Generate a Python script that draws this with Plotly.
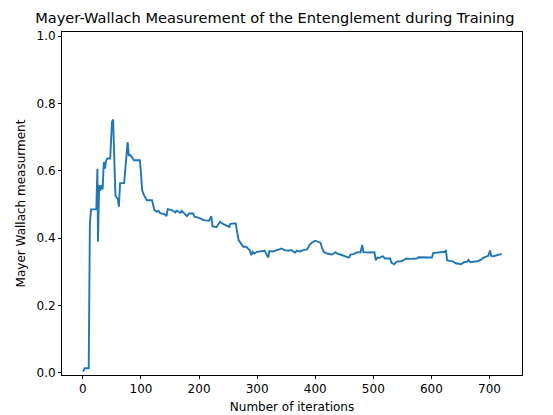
import plotly.graph_objects as go

# Training iteration at which each reading was taken
iterations = [
    0, 3, 10, 12, 14, 23, 25, 26, 28, 30, 32, 34, 36, 38, 40, 42, 47, 50, 52, 54,
    56, 58, 60, 62, 64, 71, 73, 77, 79, 82, 88, 98, 100, 102, 104, 107, 110, 119,
    123, 127, 130, 133, 141, 144, 146, 153, 159, 161, 168, 170, 175, 179, 183, 190,
    192, 200, 208, 217, 221, 223, 230, 236, 242, 252, 254, 263, 265, 268, 272, 276,
    281, 287, 290, 292, 295, 300, 313, 318, 319, 321, 327, 338, 342, 347, 353, 359,
    365, 368, 374, 379, 386, 390, 394, 400, 404, 409, 412, 415, 420, 426, 429, 435,
    437, 443, 451, 458, 461, 466, 472, 478, 481, 483, 494, 502, 504, 507, 511, 516,
    520, 529, 531, 536, 540, 548, 553, 557, 563, 568, 575, 578, 591, 601, 603, 614,
    623, 625, 627, 631, 636, 642, 651, 656, 662, 664, 667, 679, 685, 689, 698, 701,
    703, 707, 714, 718, 721,
]

# Mayer-Wallach entanglement measure at those iterations
mw_values = [
    0.003, 0.013, 0.013, 0.443, 0.485, 0.485, 0.606, 0.389, 0.557, 0.540, 0.557,
    0.545, 0.626, 0.606, 0.631, 0.636, 0.636, 0.745, 0.752, 0.600, 0.527, 0.520,
    0.517, 0.493, 0.563, 0.563, 0.611, 0.685, 0.646, 0.646, 0.631, 0.631, 0.592,
    0.542, 0.532, 0.522, 0.512, 0.512, 0.483, 0.478, 0.481, 0.474, 0.470, 0.465,
    0.486, 0.483, 0.476, 0.481, 0.475, 0.481, 0.471, 0.465, 0.473, 0.473, 0.463,
    0.460, 0.453, 0.451, 0.465, 0.435, 0.432, 0.448, 0.441, 0.433, 0.442, 0.444,
    0.423, 0.394, 0.384, 0.374, 0.374, 0.364, 0.349, 0.359, 0.354, 0.359, 0.362,
    0.346, 0.342, 0.361, 0.360, 0.366, 0.369, 0.364, 0.362, 0.364, 0.356, 0.362,
    0.360, 0.364, 0.366, 0.379, 0.386, 0.392, 0.389, 0.386, 0.369, 0.358, 0.354,
    0.353, 0.351, 0.358, 0.354, 0.351, 0.346, 0.342, 0.351, 0.352, 0.358, 0.357,
    0.379, 0.358, 0.357, 0.358, 0.334, 0.342, 0.341, 0.346, 0.339, 0.339, 0.327,
    0.322, 0.330, 0.331, 0.335, 0.339, 0.338, 0.339, 0.339, 0.343, 0.343, 0.342,
    0.355, 0.356, 0.359, 0.364, 0.334, 0.332, 0.331, 0.325, 0.322, 0.328, 0.330,
    0.335, 0.328, 0.331, 0.335, 0.341, 0.347, 0.363, 0.347, 0.346, 0.350, 0.353,
    0.353,
]

x_ticks = [0, 100, 200, 300, 400, 500, 600, 700]
y_ticks = [0.0, 0.2, 0.4, 0.6, 0.8, 1.0]
y_tick_labels = ["0.0", "0.2", "0.4", "0.6", "0.8", "1.0"]

FONT = "DejaVu Sans"

fig = go.Figure(
    go.Scatter(
        x=iterations,
        y=mw_values,
        mode="lines",
        line=dict(color="#1f77b4", width=1.9),
        showlegend=False,
    )
)

axis_common = dict(
    showgrid=False,
    zeroline=False,
    showline=True,
    linecolor="black",
    linewidth=1,
    mirror=True,
    ticks="outside",
    ticklen=3,
    tickwidth=1,
    tickcolor="black",
    automargin=False,
    tickfont=dict(family=FONT, size=12, color="black"),
)

fig.update_layout(
    width=553,
    height=415,
    margin=dict(l=62, r=31, t=32, b=40),
    paper_bgcolor="white",
    plot_bgcolor="white",
    font=dict(family=FONT, color="black"),
    title=dict(
        text="Mayer-Wallach Measurement of the Entenglement during Training",
        font=dict(family=FONT, size=14.6, color="black"),
        xref="container",
        yref="container",
        x=0.497,
        y=1 - 18 / 415,
        xanchor="center",
        yanchor="middle",
    ),
    xaxis=dict(
        **axis_common,
        range=[-36, 756],
        tickvals=x_ticks,
        title=dict(text="Number of iterations", font=dict(family=FONT, size=12), standoff=7),
    ),
    yaxis=dict(
        **axis_common,
        range=[-0.007, 1.012],
        tickvals=y_ticks,
        ticktext=y_tick_labels,
        title=dict(text="Mayer Wallach measurment", font=dict(family=FONT, size=12), standoff=8),
    ),
)

fig.write_html("out.html")
